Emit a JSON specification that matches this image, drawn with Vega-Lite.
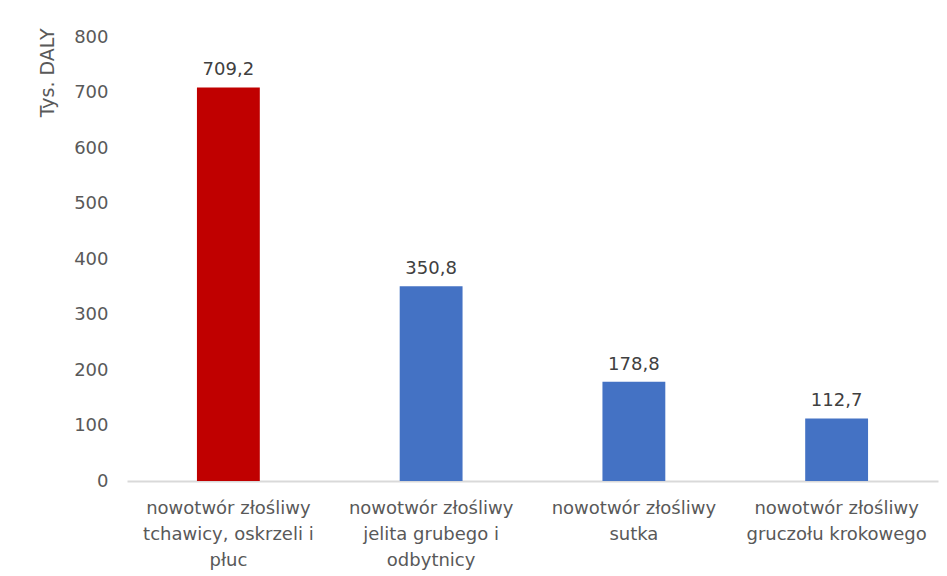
{
  "$schema": "https://vega.github.io/schema/vega-lite/v6.json",
  "width": 811,
  "height": 444,
  "autosize": {"type": "none"},
  "padding": {"left": 127, "top": 37, "right": 9, "bottom": 95},
  "background": "white",
  "config": {
    "view": {"stroke": null},
    "font": "DejaVu Sans",
    "locale": {
      "number": {"decimal": ",", "thousands": " ", "grouping": [3], "currency": ["", " zł"]}
    }
  },
  "data": {
    "values": [
      {"kategoria": "nowotwór złośliwy\ntchawicy, oskrzeli i\npłuc", "daly": 709.2, "grupa": "płuca"},
      {"kategoria": "nowotwór złośliwy\njelita grubego i\nodbytnicy", "daly": 350.8, "grupa": "pozostałe"},
      {"kategoria": "nowotwór złośliwy\nsutka", "daly": 178.8, "grupa": "pozostałe"},
      {"kategoria": "nowotwór złośliwy\ngruczołu krokowego", "daly": 112.7, "grupa": "pozostałe"}
    ]
  },
  "encoding": {
    "x": {
      "field": "kategoria",
      "type": "nominal",
      "sort": null,
      "scale": {"paddingInner": 0.69, "paddingOuter": 0.345},
      "axis": {
        "title": null,
        "labelAngle": 0,
        "labelExpr": "split(datum.label, '\\n')",
        "labelFont": "DejaVu Sans",
        "labelFontSize": 18,
        "labelColor": "#595959",
        "labelLineHeight": 26,
        "labelPadding": 18,
        "labelBaseline": "top",
        "labelOverlap": false,
        "labelLimit": 300,
        "ticks": false,
        "domainColor": "#d9d9d9",
        "domainWidth": 2
      }
    },
    "y": {
      "field": "daly",
      "type": "quantitative",
      "scale": {"domain": [0, 800], "nice": false},
      "axis": {
        "title": "Tys. DALY",
        "titleFont": "DejaVu Sans",
        "titleFontSize": 19,
        "titleFontWeight": "normal",
        "titleColor": "#595959",
        "titleAlign": "right",
        "titleBaseline": "middle",
        "titleX": -80,
        "titleY": -9,
        "values": [0, 100, 200, 300, 400, 500, 600, 700, 800],
        "labelFont": "DejaVu Sans",
        "labelFontSize": 18,
        "labelColor": "#595959",
        "labelPadding": 19,
        "labelOverlap": false,
        "ticks": false,
        "domain": false,
        "grid": false
      }
    }
  },
  "layer": [
    {
      "mark": {"type": "bar"},
      "encoding": {
        "color": {
          "field": "grupa",
          "type": "nominal",
          "scale": {"domain": ["płuca", "pozostałe"], "range": ["#c00000", "#4472c4"]},
          "legend": null
        }
      }
    },
    {
      "mark": {"type": "text", "baseline": "bottom", "dy": -8, "fontSize": 18, "color": "#404040", "font": "DejaVu Sans"},
      "encoding": {
        "text": {"field": "daly", "type": "quantitative", "format": ".1f"}
      }
    }
  ]
}
